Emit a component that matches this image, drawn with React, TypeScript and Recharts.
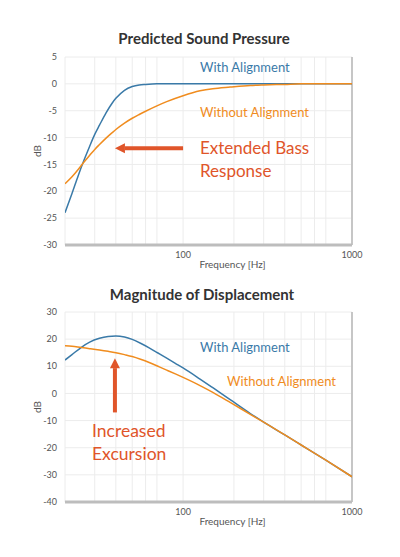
import React from "react";
import {
  LineChart,
  Line,
  XAxis,
  YAxis,
  CartesianGrid,
  ReferenceLine,
} from "recharts";

if (typeof document !== "undefined") document.body.style.margin = "0";

const BLUE = "#3a7aa8";
const ORANGE = "#f08c1e";
const RED = "#e0552a";
const FONT = "Lato, 'Open Sans', sans-serif";

// Predicted Sound Pressure (dB)
const spFreq = [20, 22, 24, 26, 28, 30, 32, 35, 38, 40, 45, 50, 55, 60, 70, 80, 100, 126, 150, 190, 250, 300, 400, 500, 700, 1000];
const spWith = [-24, -20.4, -17.0, -14.1, -11.6, -9.4, -7.7, -5.4, -3.6, -2.7, -1.2, -0.5, -0.2, -0.1, 0, 0, 0, 0, 0, 0, 0, 0, 0, 0, 0, 0];
const spWithout = [-18.6, -17.3, -15.9, -14.5, -13.3, -12.2, -11.3, -10.1, -9.1, -8.5, -7.3, -6.4, -5.7, -5.1, -4.1, -3.3, -2.2, -1.3, -0.9, -0.6, -0.3, -0.2, -0.1, 0, 0, 0];

// Magnitude of Displacement (dB)
const dispFreq = [20, 22, 25, 28, 32, 36, 40, 45, 50, 56, 63, 71, 80, 90, 100, 126, 150, 190, 250, 300, 400, 500, 700, 1000];
const dispWith = [12.3, 14.3, 17.0, 18.9, 20.3, 21.0, 21.2, 20.8, 19.9, 18.5, 16.8, 14.9, 13.0, 11.1, 9.4, 5.3, 2.1, -2.3, -7.4, -10.6, -15.3, -19.0, -24.6, -30.7];
const dispWithout = [17.6, 17.4, 16.9, 16.5, 16.0, 15.5, 15.0, 14.3, 13.6, 12.6, 11.4, 10.0, 8.6, 7.2, 5.9, 2.9, 0.4, -3.3, -7.7, -10.6, -15.3, -19.0, -24.6, -30.7];

const freqGrid = [20, 30, 40, 50, 60, 70, 80, 90, 100, 200, 300, 400, 500, 600, 700, 800, 900, 1000];
const freqLabels = [100, 1000];
const spTicks = [5, 0, -5, -10, -15, -20, -25, -30];
const spMinor = Array.from({ length: 36 }, (_, i) => 5 - i);
const dispTicks = [30, 20, 10, 0, -10, -20, -30, -40];
const dispMinor = [30, 25, 20, 15, 10, 5, 0, -5, -10, -15, -20, -25, -30, -35, -40];

const spData = spFreq.map((f, i) => ({ f, with: spWith[i], without: spWithout[i] }));
const dispData = dispFreq.map((f, i) => ({ f, with: dispWith[i], without: dispWithout[i] }));

const Arrow = (props: any) => {
  const { x1, y1, x2, y2 } = props;
  const dx = x2 - x1;
  const dy = y2 - y1;
  const len = Math.hypot(dx, dy) || 1;
  const ux = dx / len;
  const uy = dy / len;
  const hl = 10;
  const hw = 5;
  const bx = x2 - ux * hl;
  const by = y2 - uy * hl;
  return (
    <g>
      <line x1={x1} y1={y1} x2={bx} y2={by} stroke={RED} strokeWidth={4} />
      <polygon
        points={`${x2},${y2} ${bx - uy * hw},${by + ux * hw} ${bx + uy * hw},${by - ux * hw}`}
        fill={RED}
      />
    </g>
  );
};

const tickStyle = { fontSize: 9, fill: "#555", fontFamily: FONT };

function Panel({
  data,
  height,
  margin,
  domain,
  ticks,
  minor,
  arrow,
}: {
  data: any[];
  height: number;
  margin: any;
  domain: [number, number];
  ticks: number[];
  minor: number[];
  arrow: { x: number; y: number }[];
}) {
  return (
    <LineChart width={400} height={height} data={data} margin={margin}>
      <CartesianGrid stroke="#ececec" />
      <XAxis
        dataKey="f"
        type="number"
        scale="log"
        domain={[20, 1000]}
        ticks={freqGrid}
        allowDataOverflow
        tickFormatter={(v) => (freqLabels.includes(v) ? String(v) : "")}
        tick={tickStyle}
        tickLine={false}
        tickMargin={1}
        height={26}
        axisLine={{ stroke: "#bdbdbd", strokeWidth: 3 }}
        label={{
          value: "Frequency [Hz]",
          position: "insideBottom",
          offset: 3,
          dx: 24,
          fontSize: 10,
          fill: "#555",
          fontFamily: FONT,
        }}
      />
      <YAxis
        type="number"
        domain={domain}
        ticks={ticks}
        interval={0}
        width={56}
        tick={tickStyle}
        tickLine={false}
        axisLine={false}
        label={{
          value: "dB",
          angle: -90,
          position: "center",
          fontSize: 10,
          fill: "#555",
          fontFamily: FONT,
        }}
      />
      <YAxis
        yAxisId="minor"
        type="number"
        domain={domain}
        ticks={minor}
        interval={0}
        mirror
        tickSize={5}
        tickLine={{ stroke: "#e2e2e2" }}
        tickFormatter={() => ""}
        axisLine={false}
      />
      <ReferenceLine x={1000} stroke="#c6c6c6" strokeWidth={2} />
      <Line
        type="monotone"
        dataKey="with"
        stroke={BLUE}
        strokeWidth={1.5}
        dot={false}
        isAnimationActive={false}
      />
      <Line
        type="monotone"
        dataKey="without"
        stroke={ORANGE}
        strokeWidth={1.5}
        dot={false}
        isAnimationActive={false}
      />
      <ReferenceLine segment={arrow} shape={Arrow} />
    </LineChart>
  );
}

const txt = (
  left: number,
  top: number,
  size: number,
  color: string,
  content: string
) => (
  <div
    style={{
      position: "absolute",
      left,
      top,
      fontSize: size,
      lineHeight: 1,
      color,
      fontFamily: FONT,
      whiteSpace: "nowrap",
    }}
  >
    {content}
  </div>
);

const titleStyle = {
  position: "absolute" as const,
  width: 400,
  textAlign: "center" as const,
  fontSize: 15,
  lineHeight: 1,
  fontWeight: 700,
  color: "#333",
  fontFamily: FONT,
};

export default function App() {
  return (
    <div style={{ position: "relative", width: 400, height: 557, background: "#fff", overflow: "hidden" }}>
      <div style={{ ...titleStyle, left: 4, top: 31 }}>Predicted Sound Pressure</div>
      <div style={{ ...titleStyle, left: 2, top: 287 }}>Magnitude of Displacement</div>

      <div style={{ position: "absolute", left: 0, top: 0 }}>
        <Panel
          data={spData}
          height={280}
          margin={{ top: 57, right: 48, bottom: 9, left: 9 }}
          domain={[-30, 5]}
          ticks={spTicks}
          minor={spMinor}
          arrow={[
            { x: 100, y: -12 },
            { x: 39.5, y: -12 },
          ]}
        />
      </div>
      <div style={{ position: "absolute", left: 0, top: 280 }}>
        <Panel
          data={dispData}
          height={277}
          margin={{ top: 32, right: 48, bottom: 29, left: 9 }}
          domain={[-40, 30]}
          ticks={dispTicks}
          minor={dispMinor}
          arrow={[
            { x: 39.5, y: -7 },
            { x: 39.5, y: 13 },
          ]}
        />
      </div>

      {txt(200, 61, 13, BLUE, "With Alignment")}
      {txt(200, 106, 13, ORANGE, "Without Alignment")}
      {txt(200, 139, 17, RED, "Extended Bass")}
      {txt(200, 162, 17, RED, "Response")}

      {txt(200, 341, 13, BLUE, "With Alignment")}
      {txt(227, 375, 13, ORANGE, "Without Alignment")}
      {txt(92, 422, 17.5, RED, "Increased")}
      {txt(92, 445, 17.5, RED, "Excursion")}
    </div>
  );
}
